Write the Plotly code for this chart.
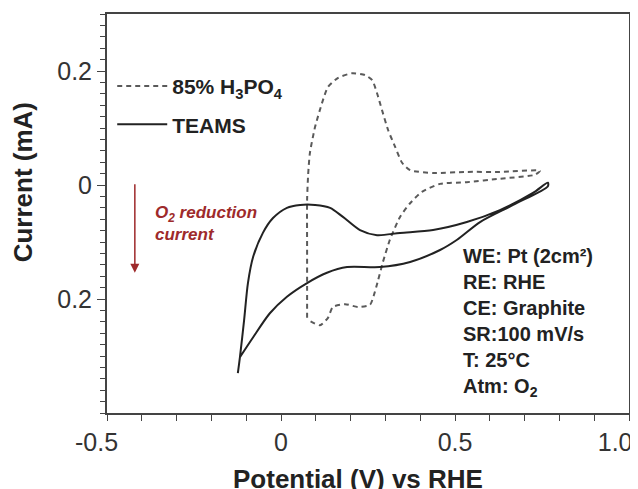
import plotly.graph_objects as go

# ---------------- data ----------------
teams_v = [-0.124, -0.118, -0.106, -0.095, -0.080, -0.052, -0.023, 0.017, 0.055, 0.098,
           0.141, 0.178, 0.227, 0.276, 0.342, 0.437, 0.534, 0.629, 0.724, 0.767,
           0.767, 0.667, 0.572, 0.506, 0.457, 0.371, 0.284, 0.190, 0.132, 0.075,
           0.017, -0.032, -0.080, -0.118]
teams_i = [-0.330, -0.302, -0.237, -0.172, -0.126, -0.084, -0.058, -0.040, -0.035, -0.035,
           -0.040, -0.056, -0.079, -0.088, -0.084, -0.079, -0.065, -0.044, -0.014, 0.004,
           -0.002, -0.035, -0.065, -0.096, -0.114, -0.135, -0.144, -0.144, -0.154, -0.172,
           -0.196, -0.225, -0.267, -0.302]

h3po4_v = [0.075, 0.075, 0.075, 0.075, 0.078, 0.083, 0.098, 0.118, 0.135, 0.164,
           0.204, 0.241, 0.262, 0.276, 0.290, 0.308, 0.328, 0.348, 0.371, 0.437,
           0.534, 0.629, 0.744, 0.730, 0.629, 0.534, 0.457, 0.405, 0.371, 0.342,
           0.313, 0.293, 0.279, 0.267, 0.256, 0.221, 0.184, 0.149, 0.135, 0.112,
           0.078]
h3po4_i = [-0.233, -0.202, -0.114, -0.026, 0.018, 0.056, 0.102, 0.144, 0.172, 0.188,
           0.196, 0.193, 0.184, 0.161, 0.132, 0.096, 0.067, 0.039, 0.026, 0.021,
           0.023, 0.023, 0.025, 0.018, 0.011, 0.005, 0.002, -0.012, -0.032, -0.056,
           -0.096, -0.135, -0.167, -0.193, -0.210, -0.214, -0.209, -0.214, -0.233, -0.246,
           -0.237]

x_tickvals = [-0.5, 0.0, 0.5, 1.0]
x_ticktext = ["-0.5\u00a0\u00a0\u00a0", "0", "0.5", "1.0\u00a0\u00a0\u00a0\u00a0"]
y_tickvals = [-0.2, 0.0, 0.2]
y_ticktext = ["0.2", "0", "0.2"]

conditions = ["WE: Pt (2cm\u00b2)", "RE: RHE", "CE: Graphite", "SR:100 mV/s",
              "T: 25\u00b0C", "Atm: O<sub>2</sub>"]

FONT = "Arial, 'Liberation Sans', sans-serif"

fig = go.Figure()
fig.add_trace(go.Scatter(
    x=h3po4_v, y=h3po4_i, mode="lines", name="<b>85% H<sub>3</sub>PO<sub>4</sub></b>",
    line=dict(color="#5a5a5a", width=2, dash="5px,4px", shape="spline", smoothing=0.6),
    legendgroup="a"))
fig.add_trace(go.Scatter(
    x=teams_v, y=teams_i, mode="lines", name="<b>TEAMS</b>",
    line=dict(color="#222222", width=2, shape="spline", smoothing=0.8), legendgroup="b"))

axis_common = dict(showgrid=False, zeroline=False, showline=True, linecolor="#444444",
                   linewidth=2, mirror=True, ticks="outside", tickcolor="#444444",
                   automargin=False,
                   tickfont=dict(family=FONT, size=25, color="#333333"))

fig.update_xaxes(range=[-0.5, 1.0], tickvals=x_tickvals, ticktext=x_ticktext, ticklen=6,
                 ticklabeloverflow="allow",
                 minor=dict(dtick=0.1, tick0=0, ticks="outside", ticklen=6, tickcolor="#444444"),
                 **axis_common)
fig.update_yaxes(range=[-0.4, 0.3], tickvals=y_tickvals, ticktext=y_ticktext, ticklen=8,
                 minor=dict(dtick=0.02, tick0=0, ticks="outside", ticklen=5, tickcolor="#444444"),
                 **axis_common)

annotations = [
    dict(text="<b>Potential (V) vs RHE</b>", xref="paper", yref="paper", x=0.48, y=-0.165,
         showarrow=False, xanchor="center", yanchor="middle",
         font=dict(family=FONT, size=26, color="#222222")),
    dict(text="<b>Current (mA)</b>", xref="paper", yref="paper", x=-0.161, y=0.578,
         showarrow=False, textangle=-90, xanchor="center", yanchor="middle",
         font=dict(family=FONT, size=26, color="#222222")),
    dict(text="<b><i>O<sub>2</sub> reduction<br>current</i></b>", xref="paper", yref="paper",
         x=(153 - 107) / 522, y=(413 - 201) / 399, showarrow=False, xanchor="left", yanchor="top",
         align="left", font=dict(family=FONT, size=17, color="#9e2a2b")),
    dict(text="", x=-0.42, y=-0.154, xref="x", yref="y", ax=-0.42, ay=0.004, axref="x", ayref="y",
         showarrow=True, arrowhead=2, arrowsize=1.2, arrowwidth=1.5, arrowcolor="#9e2a2b"),
    dict(text="<b>" + "<br>".join(conditions) + "</b>", xref="paper", yref="paper",
         x=(461 - 107) / 522, y=(413 - 243) / 399, showarrow=False, xanchor="left", yanchor="top",
         align="left", font=dict(family=FONT, size=20, color="#222222")),
]

# the page body adds an 8px offset, so the figure margins are shifted by 8px
fig.update_layout(
    width=638, height=489,
    margin=dict(l=99, r=17, t=6, b=84, autoexpand=False),
    paper_bgcolor="white", plot_bgcolor="white",
    showlegend=True,
    legend=dict(x=0.01, y=0.87, xanchor="left", yanchor="top", bgcolor="rgba(0,0,0,0)",
                font=dict(family=FONT, size=21, color="#222222"), itemwidth=50,
                tracegroupgap=8),
    annotations=annotations,
)

fig.write_html("out.html")
